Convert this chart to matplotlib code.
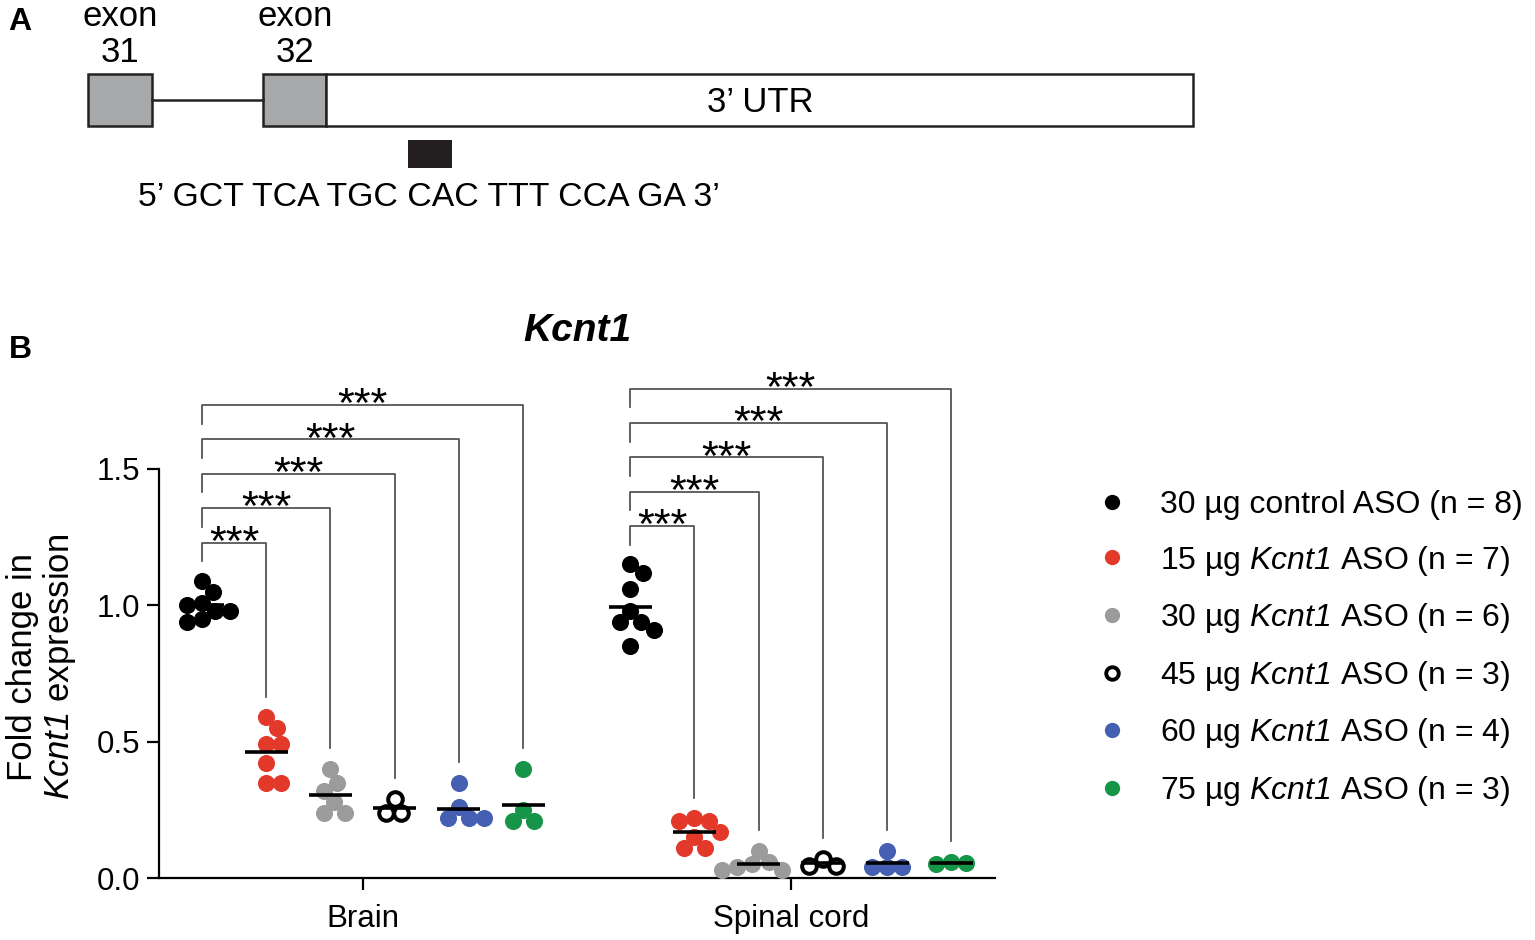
import numpy as np
import matplotlib
matplotlib.use("Agg")
import matplotlib.pyplot as plt
from matplotlib.patches import Rectangle
from matplotlib.lines import Line2D

plt.rcParams['font.family'] = ['Liberation Sans', 'DejaVu Sans']
plt.rcParams['mathtext.fontset'] = 'custom'
plt.rcParams['mathtext.rm'] = 'Liberation Sans'
plt.rcParams['mathtext.it'] = 'Liberation Sans:italic'
plt.rcParams['mathtext.sf'] = 'Liberation Sans:italic'
plt.rcParams['mathtext.bf'] = 'Liberation Sans:bold'

# ---------------- data ----------------
tissues = ["Brain", "Spinal cord"]
group_labels = ["30 µg control ASO (n = 8)",
                "15 µg $\\mathsf{Kcnt1}$ ASO (n = 7)",
                "30 µg $\\mathsf{Kcnt1}$ ASO (n = 6)",
                "45 µg $\\mathsf{Kcnt1}$ ASO (n = 3)",
                "60 µg $\\mathsf{Kcnt1}$ ASO (n = 4)",
                "75 µg $\\mathsf{Kcnt1}$ ASO (n = 3)"]

brain_ctrl = [1.09, 1.05, 1.01, 1.00, 0.98, 0.98, 0.95, 0.94]
brain_15 = [0.59, 0.55, 0.49, 0.49, 0.42, 0.35, 0.35]
brain_30 = [0.40, 0.35, 0.32, 0.28, 0.24, 0.24]
brain_45 = [0.29, 0.24, 0.24]
brain_60 = [0.35, 0.26, 0.22, 0.22, 0.22]
brain_75 = [0.40, 0.25, 0.21, 0.21]

spinal_ctrl = [1.15, 1.12, 1.06, 0.98, 0.94, 0.94, 0.91, 0.85]
spinal_15 = [0.22, 0.21, 0.21, 0.17, 0.15, 0.11, 0.11]
spinal_30 = [0.10, 0.06, 0.05, 0.04, 0.03, 0.03]
spinal_45 = [0.07, 0.045, 0.045]
spinal_60 = [0.10, 0.04, 0.04, 0.04]
spinal_75 = [0.06, 0.055, 0.05]

yticks = [0.0, 0.5, 1.0, 1.5]
sig_label = "***"

colors = ["#000000", "#E3392B", "#9B9B9B", "#FFFFFF", "#4560B2", "#169447"]

brain = [brain_ctrl, brain_15, brain_30, brain_45, brain_60, brain_75]
spinal = [spinal_ctrl, spinal_15, spinal_30, spinal_45, spinal_60, spinal_75]

# ---------------- figure ----------------
W, H = 1535, 940
fig = plt.figure(figsize=(W / 100, H / 100), dpi=100)

# panel A overlay (pixel coordinates)
axA = fig.add_axes([0, 0, 1, 1])
axA.set_xlim(0, W)
axA.set_ylim(H, 0)
axA.axis('off')
gray_fill = "#A7A8AA"
axA.add_patch(Rectangle((88, 74), 64, 52, facecolor=gray_fill, edgecolor='#222222', lw=1.8))
axA.plot([152, 263], [100, 100], color='#222222', lw=1.8)
axA.add_patch(Rectangle((263, 74), 63, 52, facecolor=gray_fill, edgecolor='#222222', lw=1.8))
axA.add_patch(Rectangle((326, 74), 867, 52, facecolor='white', edgecolor='#222222', lw=1.8))
axA.add_patch(Rectangle((408, 140), 44, 28, facecolor='#231F20', edgecolor='none'))
fs_a = 25
axA.text(760, 102, "3’ UTR", ha='center', va='center', fontsize=fs_a)
axA.text(429, 197, "5’ GCT TCA TGC CAC TTT CCA GA 3’", ha='center', va='center', fontsize=24.3)
axA.text(120, 16, "exon", ha='center', va='center', fontsize=fs_a)
axA.text(120, 53, "31", ha='center', va='center', fontsize=fs_a)
axA.text(295, 16, "exon", ha='center', va='center', fontsize=fs_a)
axA.text(295, 53, "32", ha='center', va='center', fontsize=fs_a)
lab_family = ['Liberation Sans Narrow', 'Liberation Sans']
axA.text(20, 22, "A", ha='center', va='center', fontsize=23, fontweight='bold', family=lab_family)
axA.text(20, 350, "B", ha='center', va='center', fontsize=23, fontweight='bold', family=lab_family)

# panel B axes
px_per_x = 64.2
px_per_y = 272.7
ax_left_px, ax_right_px, ax_bottom_px = 159, 995, 878
ymax = 1.9
ax_h_px = ymax * px_per_y
ax = fig.add_axes([ax_left_px / W, (H - ax_bottom_px) / H,
                   (ax_right_px - ax_left_px) / W, ax_h_px / H])
xmin = -0.67
xmax = xmin + (ax_right_px - ax_left_px) / px_per_x
ax.set_xlim(xmin, xmax)
ax.set_ylim(0, ymax)
ax.patch.set_alpha(0)

group_gap = 1.67
n_groups = len(brain)
block_x = [np.arange(n_groups), np.arange(n_groups) + n_groups + group_gap - 1]


def swarm_offsets(vals, diam_px=15.0):
    vals = np.asarray(vals, float)
    order = np.argsort(-vals)
    placed = []
    offs = np.zeros(len(vals))
    cands = [0.0]
    for k in range(1, 200):
        cands += [k * 0.5, -k * 0.5]
    for i in order:
        ypx = vals[i] * px_per_y
        for c in cands:
            ok = True
            for (px, py) in placed:
                if (c - px) ** 2 + (ypx - py) ** 2 < diam_px ** 2:
                    ok = False
                    break
            if ok:
                offs[i] = c
                placed.append((c, ypx))
                break
    return offs / px_per_x


ms = 12.3
for blk, xs in zip([brain, spinal], block_x):
    for j, (vals, x) in enumerate(zip(blk, xs)):
        offs = swarm_offsets(vals)
        if j == 3:
            ax.plot(x + offs, vals, 'o', ls='none', ms=ms - 1.8, mfc='white',
                    mec='black', mew=2.9, zorder=3, clip_on=False)
        else:
            ax.plot(x + offs, vals, 'o', ls='none', ms=ms, mfc=colors[j],
                    mec='none', zorder=3, clip_on=False)
        m = np.mean(vals)
        ax.plot([x - 0.335, x + 0.335], [m, m], color='black', lw=2.6,
                solid_capstyle='butt', zorder=5)

    # significance brackets
    base = max(blk[0]) + 0.14
    step = 0.126
    x0 = xs[0]
    for j in range(1, n_groups):
        h = base + (j - 1) * step
        right_bottom = max(blk[j]) + 0.075
        ax.plot([x0, x0, xs[j], xs[j]], [h - 0.068, h, h, right_bottom],
                color='#555555', lw=1.3, zorder=2, clip_on=False)
        ax.text((x0 + xs[j]) / 2, h - 0.045, sig_label, ha='center',
                va='baseline', fontsize=31, clip_on=False)

# axis styling
for s in ['top', 'right']:
    ax.spines[s].set_visible(False)
ax.spines['left'].set_bounds(0, 1.5)
ax.spines['left'].set_linewidth(1.6)
ax.spines['bottom'].set_linewidth(1.6)
ax.set_yticks(yticks)
ax.set_yticklabels([f"{t:.1f}" for t in yticks])
ax.set_xticks([xs.mean() for xs in block_x])
ax.set_xticklabels(tissues)
ax.tick_params(axis='y', length=8.5, width=1.6, labelsize=22.5, pad=5)
ax.tick_params(axis='x', length=8.5, width=1.6, labelsize=22.5, pad=10)

fig.text(577 / W, 1 - 331 / H, "Kcnt1", ha='center', va='center',
         fontsize=28, fontweight='bold', fontstyle='italic')
fig.text(42 / W, 1 - 667 / H, "Fold change in\n$\\mathsf{Kcnt1}$ expression",
         rotation=90, ha='center', va='center', fontsize=25,
         multialignment='center', linespacing=1.05)

# legend
handles = []
for j in range(n_groups):
    if j == 3:
        handles.append(Line2D([], [], marker='o', ls='none', ms=9, mfc='white',
                              mec='black', mew=2.8))
    else:
        handles.append(Line2D([], [], marker='o', ls='none', ms=11,
                              mfc=colors[j], mec='none'))
leg = fig.legend(handles, group_labels, loc='center left',
                 bbox_to_anchor=(1096 / W, 1 - 649 / H), frameon=False,
                 fontsize=23, handlelength=1.0, handletextpad=1.0,
                 labelspacing=0.74, borderpad=0, borderaxespad=0)

fig.savefig("out.png", dpi=100)
